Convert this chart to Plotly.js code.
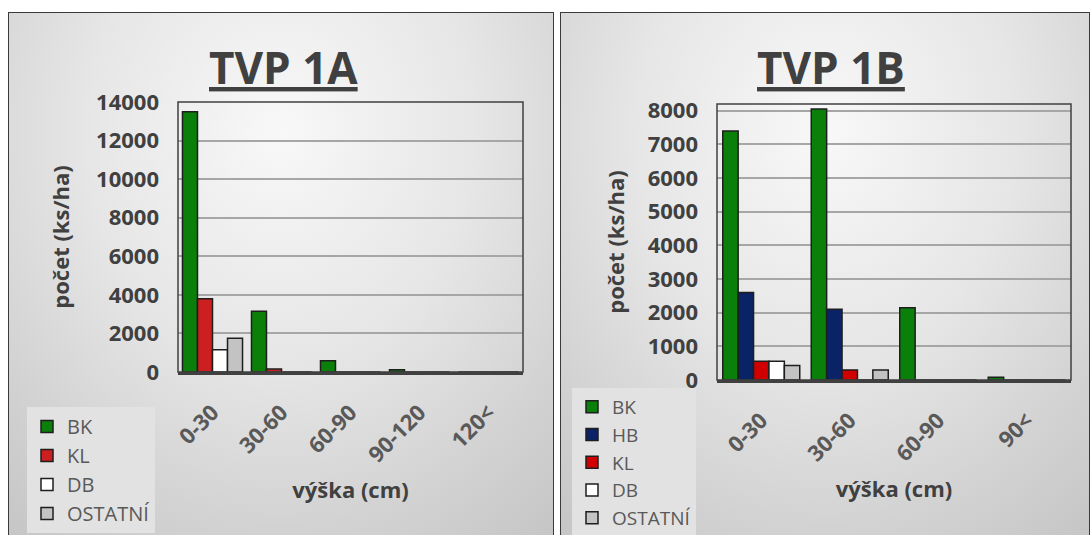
<!DOCTYPE html>
<html>
<head>
<meta charset="utf-8">
<script src="https://cdn.plot.ly/plotly-3.0.1.min.js"></script>
<style>
html,body{margin:0;padding:0;background:#ffffff;width:1091px;height:535px;overflow:hidden;}
.panel{position:absolute;border:1px solid #3a3a3a;box-sizing:border-box;
  background:radial-gradient(ellipse 80% 95% at 50% 22%, #f8f8f8 0%, #e6e6e6 45%, #d2d2d2 78%, #c6c6c6 100%);}
#p1{left:8px;top:12px;width:546px;height:540px;}
#p2{left:560px;top:12px;width:530px;height:540px;}
#chart{position:absolute;left:0;top:0;width:1091px;height:535px;}
</style>
</head>
<body>
<div class="panel" id="p1"></div>
<div class="panel" id="p2"></div>
<div id="chart"></div>
<script>
// ---- data: TVP 1A ----
const catsA = ['0-30', '30-60', '60-90', '90-120', '120<'];
const bkA  = [13500, 3150, 580, 120, 0];
const klA  = [3800, 150, 0, 0, 0];
const dbA  = [1150, 0, 0, 0, 0];
const ostA = [1750, 0, 0, 0, 0];

// ---- data: TVP 1B ----
const catsB = ['0-30', '30-60', '60-90', '90<'];
const bkB  = [7400, 8050, 2150, 80];
const hbB  = [2600, 2100, 0, 0];
const klB  = [560, 300, 0, 0];
const dbB  = [560, 0, 0, 0];
const ostB = [430, 300, 0, 0];

const titleA = 'TVP 1A';
const titleB = 'TVP 1B';
const xTitle = 'výška (cm)';
const yTitle = 'počet (ks/ha)';

const W = 1091, H = 535;
const px = v => v / W;
const py = v => 1 - v / H;
const FONT = '"Open Sans", "Noto Sans", sans-serif';

const col = {BK:'#0a800a', HB:'#0a2266', KL:'#cc1f1f', DB:'#ffffff', OST:'#c3c3c3'};
const lineCol = '#1e1e1e';

function bar(name, cats, vals, color, xa, ya, legend){
  return {type:'bar', name:name, x:cats, y:vals, xaxis:xa, yaxis:ya,
    legend:legend, legendgroup:legend+name,
    marker:{color:color, line:{color:lineCol, width:1.5}}, hoverinfo:'skip'};
}

const data = [
  bar('BK', catsA, bkA, col.BK, 'x', 'y', 'legend'),
  bar('KL', catsA, klA, col.KL, 'x', 'y', 'legend'),
  bar('DB', catsA, dbA, col.DB, 'x', 'y', 'legend'),
  bar('OSTATNÍ', catsA, ostA, col.OST, 'x', 'y', 'legend'),
  bar('BK', catsB, bkB, col.BK, 'x2', 'y2', 'legend2'),
  bar('HB', catsB, hbB, col.HB, 'x2', 'y2', 'legend2'),
  bar('KL', catsB, klB, '#d00000', 'x2', 'y2', 'legend2'),
  bar('DB', catsB, dbB, col.DB, 'x2', 'y2', 'legend2'),
  bar('OSTATNÍ', catsB, ostB, col.OST, 'x2', 'y2', 'legend2')
];

const tickFontY = {family:FONT, size:22, color:'#404040', weight:'bold'};
const tickFontX = {family:FONT, size:22, color:'#595959', weight:'bold'};
const titleFont = {family:FONT, size:22, color:'#404040', weight:'bold'};

function xAxis(domain, cats, anchor){
  return {domain:domain, anchor:anchor, type:'category', categoryorder:'array', categoryarray:cats,
    tickangle:-45, tickfont:tickFontX, ticks:'', ticklabelstandoff:16,
    showline:true, linecolor:'#404040', linewidth:3, showgrid:false, zeroline:false,
    title:{text:xTitle, font:titleFont, standoff:16}, fixedrange:true};
}
function yAxis(domain, range, dtick, anchor, standoff){
  return {domain:domain, anchor:anchor, range:range, dtick:dtick, tickformat:'d', tickfont:tickFontY,
    ticks:'', ticklabelstandoff:18, showline:false, showgrid:true, gridcolor:'#a6a6a6', gridwidth:2,
    zeroline:false, title:{text:yTitle, font:titleFont, standoff:standoff}, fixedrange:true};
}

const legendBase = {bgcolor:'#e2e2e2', borderwidth:0, font:{family:FONT, size:20, color:'#595959'},
  xanchor:'left', yanchor:'top', itemwidth:30, itemclick:false, itemdoubleclick:false, traceorder:'normal'};

const layout = {
  width:W, height:H,
  margin:{l:0, r:0, t:0, b:0, autoexpand:false},
  paper_bgcolor:'rgba(0,0,0,0)', plot_bgcolor:'rgba(0,0,0,0)',
  barmode:'group', bargap:0.13, bargroupgap:0,
  showlegend:true,
  xaxis: xAxis([px(178), px(523)], catsA, 'y'),
  yaxis: yAxis([py(372), py(102)], [0, 14000], 2000, 'x', 20),
  xaxis2: xAxis([px(717), px(1071)], catsB, 'y2'),
  yaxis2: yAxis([py(380), py(104)], [0, 8200], 1000, 'x2', 16),
  legend: Object.assign({}, legendBase, {x:px(27), y:py(407), tracegroupgap:2}),
  legend2: Object.assign({}, legendBase, {x:px(572), y:py(388), tracegroupgap:0,
    font:{family:FONT, size:19, color:'#595959'}}),
  shapes:[
    {type:'rect', xref:'x domain', yref:'y domain', x0:0, x1:1, y0:0, y1:1, line:{color:'#404040', width:1.5}},
    {type:'rect', xref:'x2 domain', yref:'y2 domain', x0:0, x1:1, y0:0, y1:1, line:{color:'#404040', width:1.5}}
  ],
  annotations:[
    {text:'<u>'+titleA+'</u>', xref:'paper', yref:'paper', x:px(283), y:py(67), xanchor:'center', yanchor:'middle',
     showarrow:false, font:{family:FONT, size:44, color:'#404040', weight:'bold'}},
    {text:'<u>'+titleB+'</u>', xref:'paper', yref:'paper', x:px(831), y:py(67), xanchor:'center', yanchor:'middle',
     showarrow:false, font:{family:FONT, size:44, color:'#404040', weight:'bold'}}
  ]
};

Plotly.newPlot('chart', data, layout, {displayModeBar:false, staticPlot:true});
</script>
</body>
</html>
